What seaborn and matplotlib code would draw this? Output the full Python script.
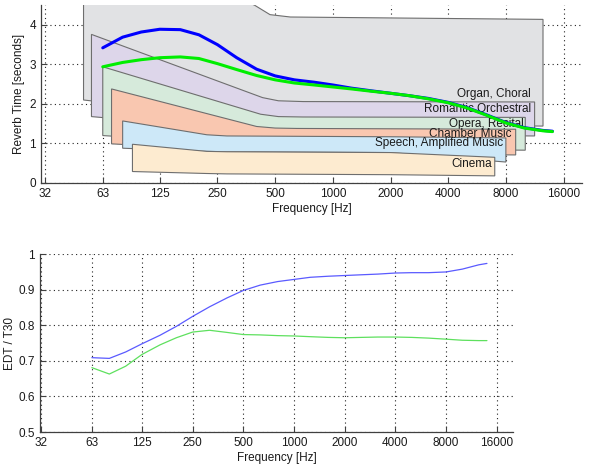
import matplotlib
matplotlib.use('Agg')
import matplotlib.pyplot as plt
import seaborn as sns
import pandas as pd

# 1/3 octave bands the measurements are given at
freqs = [63, 80, 100, 125, 160, 200, 250, 315, 400, 500, 630, 800, 1000,
         1250, 1600, 2000, 2500, 3150, 4000, 5000, 6300, 8000, 10000, 12500, 14000]

# reverb time (T30), seconds
t30_blue = [3.42, 3.69, 3.82, 3.89, 3.88, 3.75, 3.50, 3.17, 2.88, 2.71, 2.61, 2.55, 2.48,
            2.40, 2.33, 2.27, 2.21, 2.14, 2.04, 1.91, 1.73, 1.53, 1.40, 1.33, 1.31]
t30_green = [2.94, 3.05, 3.12, 3.17, 3.19, 3.15, 3.02, 2.87, 2.72, 2.61, 2.53, 2.48, 2.43,
             2.38, 2.32, 2.27, 2.21, 2.13, 2.03, 1.90, 1.72, 1.52, 1.39, 1.32, 1.30]

# EDT / T30 ratio
ratio_blue = [0.709, 0.707, 0.725, 0.748, 0.772, 0.797, 0.825, 0.852, 0.877, 0.898, 0.913,
              0.923, 0.929, 0.935, 0.938, 0.940, 0.942, 0.944, 0.947, 0.948, 0.948, 0.950,
              0.958, 0.970, 0.974]
ratio_green = [0.681, 0.663, 0.685, 0.718, 0.745, 0.765, 0.781, 0.786, 0.780, 0.774, 0.773,
               0.771, 0.770, 0.768, 0.766, 0.765, 0.766, 0.767, 0.767, 0.766, 0.764, 0.761,
               0.758, 0.757, 0.757]

# recommended reverb ranges per room use
organ_freq = [50, 390, 470, 600, 12500]
organ_upper = [6.3, 4.5, 4.26, 4.2, 4.14]
organ_lower = [2.1, 1.62, 1.55, 1.5, 1.44]

romantic_freq = [55, 430, 520, 700, 11300]
romantic_upper = [3.76, 2.16, 2.08, 2.06, 2.05]
romantic_lower = [1.68, 1.3, 1.24, 1.22, 1.19]

opera_freq = [63, 420, 520, 700, 10100]
opera_upper = [2.94, 1.74, 1.68, 1.67, 1.66]
opera_lower = [1.2, 0.95, 0.9, 0.87, 0.83]

chamber_freq = [70, 400, 500, 650, 9000]
chamber_upper = [2.38, 1.43, 1.39, 1.38, 1.36]
chamber_lower = [0.99, 0.8, 0.76, 0.74, 0.71]

speech_freq = [80, 220, 280, 2000, 8000]
speech_upper = [1.57, 1.22, 1.19, 1.17, 1.14]
speech_lower = [0.88, 0.8, 0.79, 0.77, 0.53]

cinema_freq = [90, 220, 280, 2000, 7000]
cinema_upper = [0.98, 0.8, 0.79, 0.77, 0.65]
cinema_lower = [0.29, 0.24, 0.23, 0.21, 0.18]

range_names = ['Organ, Choral', 'Romantic Orchestral', 'Opera, Recital',
               'Chamber Music', 'Speech, Amplified Music', 'Cinema']
range_colors = ['#e1e2e4', '#ddd6ea', '#d6eadb', '#f9c7b0', '#cde8f8', '#fdebd0']
label_freq = [10800, 10800, 9900, 8600, 7700, 6800]
label_value = [2.26, 1.87, 1.48, 1.23, 1.0, 0.48]

tick_freqs = [31.5, 63, 125, 250, 500, 1000, 2000, 4000, 8000, 16000]
tick_labels = ['32', '63', '125', '250', '500', '1000', '2000', '4000', '8000', '16000']

sns.set_style('white')
plt.rcParams['font.family'] = ['Liberation Sans', 'DejaVu Sans']

df = pd.DataFrame({'freq': freqs, 't30_blue': t30_blue, 't30_green': t30_green,
                   'ratio_blue': ratio_blue, 'ratio_green': ratio_green})

fig = plt.figure(figsize=(5.92, 4.68), dpi=100)
ax1 = fig.add_axes([0.0693, 0.609, 0.914, 0.380])
ax2 = fig.add_axes([0.0676, 0.0769, 0.799, 0.380])


def style_axes(ax):
    ax.set_xscale('log')
    ax.set_xticks(tick_freqs)
    ax.set_xticklabels(tick_labels)
    ax.minorticks_off()
    ax.grid(True, linestyle=(0, (1, 3)), color='#222222', linewidth=0.8)
    ax.set_axisbelow(True)
    for side in ['top', 'right']:
        ax.spines[side].set_visible(False)
    for side in ['left', 'bottom']:
        ax.spines[side].set_color('#404040')
        ax.spines[side].set_linewidth(0.9)
    ax.tick_params(direction='in', length=4, width=0.8, color='#404040',
                   labelsize=8.5, labelcolor='#1a1a1a', left=True, bottom=True)
    ax.set_xlabel('Frequency [Hz]', fontsize=8.5, color='#1a1a1a', labelpad=2)


# top: recommended ranges with measured T30
ranges = [(organ_freq, organ_upper, organ_lower),
          (romantic_freq, romantic_upper, romantic_lower),
          (opera_freq, opera_upper, opera_lower),
          (chamber_freq, chamber_upper, chamber_lower),
          (speech_freq, speech_upper, speech_lower),
          (cinema_freq, cinema_upper, cinema_lower)]

for i, (f, up, lo) in enumerate(ranges):
    xs = f + f[::-1]
    ys = up + lo[::-1]
    ax1.fill(xs, ys, facecolor=range_colors[i], edgecolor='#6e6e6e',
             linewidth=0.8, zorder=2 + i)
    ax1.text(label_freq[i], label_value[i], range_names[i], ha='right', va='center',
             fontsize=8.5, color='#1a1a1a', zorder=2 + i)

sns.lineplot(data=df, x='freq', y='t30_blue', ax=ax1, color='#0000ff',
             linewidth=2.2, estimator=None, zorder=10)
sns.lineplot(data=df, x='freq', y='t30_green', ax=ax1, color='#00ee00',
             linewidth=2.2, estimator=None, zorder=11)
style_axes(ax1)
ax1.set_xlim(30, 20000)
ax1.set_ylim(0, 4.5)
ax1.set_yticks([0, 1, 2, 3, 4])
ax1.set_ylabel('Reverb Time [seconds]', fontsize=8.5, color='#1a1a1a', labelpad=3)

# bottom: EDT / T30
sns.lineplot(data=df, x='freq', y='ratio_blue', ax=ax2, color='#5a5aff',
             linewidth=0.9, estimator=None)
sns.lineplot(data=df, x='freq', y='ratio_green', ax=ax2, color='#5ee05e',
             linewidth=0.9, estimator=None)
style_axes(ax2)
ax2.set_xlim(31, 20000)
ax2.set_ylim(0.5, 1.0)
ax2.set_yticks([0.5, 0.6, 0.7, 0.8, 0.9, 1.0])
ax2.set_yticklabels(['0.5', '0.6', '0.7', '0.8', '0.9', '1'])
ax2.set_ylabel('EDT / T30', fontsize=8.5, color='#1a1a1a', labelpad=2)

fig.savefig('out.png', dpi=100)
